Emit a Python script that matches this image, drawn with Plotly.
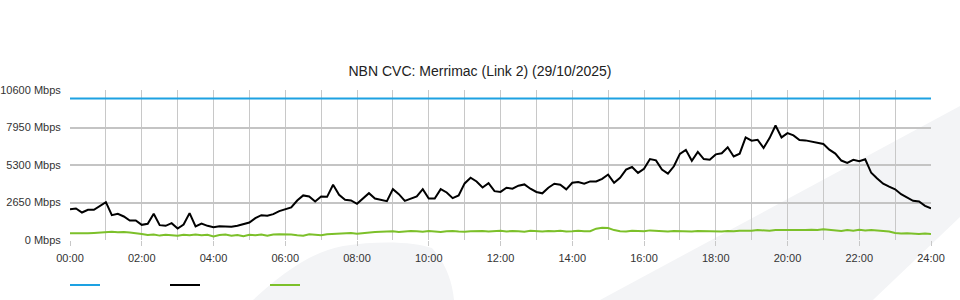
import plotly.graph_objects as go

# ---------------- data (10-minute samples, 00:00 .. 24:00) ----------------
sample_minutes = 10
capacity_mbps = 10000

download_mbps = [
    2179, 2226, 1944, 2132, 2132, 2415, 2674, 1755, 1849, 1661, 1378, 1378,
    1072, 1143, 1849, 1048, 1001, 1190, 813, 1096, 1900, 954, 1166, 1001,
    907, 978, 931, 931, 1001, 1096, 1237, 1543, 1755, 1708, 1826, 2038,
    2179, 2297, 2792, 3150, 3075, 2721, 3075, 3051, 3900, 3192, 2839, 2792,
    2556, 2933, 3310, 2933, 2839, 2745, 3593, 3239, 2768, 2933, 3075, 3593,
    2933, 2933, 3593, 3357, 2957, 3145, 4000, 4400, 4135, 3711, 4017, 3452,
    3400, 3696, 3626, 3836, 3929, 3626, 3394, 3301, 3696, 3975, 3905, 3580,
    4045, 4091, 3975, 4138, 4138, 4324, 4626, 4045, 4394, 4975, 5161, 4742,
    5030, 5719, 5626, 4975, 4696, 5208, 6091, 6370, 5603, 6230, 5719, 5672,
    6050, 6128, 6550, 5900, 6100, 7249, 7016, 7086, 6502, 7202, 8090, 7249,
    7553, 7389, 7062, 7039, 6969, 6876, 6782, 6385, 6105, 5615, 5451, 5661,
    5568, 5708, 4750, 4354, 3980, 3770, 3583, 3233, 3000, 2766, 2719, 2416,
    2229,
]

upload_mbps = [
    480, 470, 490, 470, 500, 540,
    600, 590, 540, 570, 530, 500,
    420, 360, 390, 310, 370, 340,
    300, 370, 340, 380, 330, 370,
    250, 350, 380, 300, 360, 260,
    370, 340, 390, 300, 380, 400,
    410, 380, 330, 300, 400, 370,
    330, 400, 420, 470, 450, 490,
    450, 500, 520, 560, 580, 600,
    620, 570, 600, 640, 610, 580,
    630, 600, 560, 620, 640, 600,
    580, 620, 650, 640, 600, 620,
    650, 600, 640, 620, 580, 650,
    620, 600, 640, 620, 660, 600,
    620, 650, 620, 620, 800, 860,
    840, 700, 620, 600, 650, 640,
    620, 680, 650, 620, 600, 640,
    620, 650, 600, 640, 620, 600,
    620, 600, 640, 620, 660, 640,
    660, 700, 680, 660, 700, 700,
    680, 700, 660, 700, 720, 700,
    760, 720, 680, 640, 700, 660,
    720, 680, 700, 660, 640, 600,
    500, 460, 480, 440, 420, 460,
    430,
]

hours = [i * sample_minutes / 60 for i in range(len(download_mbps))]
capacity = [capacity_mbps] * len(hours)

y_tick_values = [0, 2650, 5300, 7950, 10600]
y_tick_labels = ["0 Mbps", "2650 Mbps", "5300 Mbps", "7950 Mbps", "10600 Mbps"]
x_tick_values = list(range(0, 25, 2))
x_tick_labels = ["00:00", "02:00", "04:00", "06:00", "08:00", "10:00", "12:00",
                 "14:00", "16:00", "18:00", "20:00", "22:00", "24:00"]

title_text = "NBN CVC: Merrimac (Link 2) (29/10/2025)"

# ---------------- layout geometry ----------------
W, H = 960, 300
ML, MR, MT, MB = 70, 29, 90, 60
PW, PH = W - ML - MR, H - MT - MB


def pp(x, y):
    """pixel -> paper coordinates (for background watermark only)"""
    return (x - ML) / PW, (H - MB - y) / PH


def path(points_cmds):
    out = []
    for cmd, pts in points_cmds:
        coords = " ".join("%.4f,%.4f" % pp(*p) for p in pts)
        out.append(cmd + coords)
    return " ".join(out) + " Z"


wm_color = "#f3f4f6"
band = path([("M", [(600, 300)]), ("L", [(960, 106)]), ("L", [(960, 217)]), ("L", [(873, 300)])])
blob = path([("M", [(253, 300)]),
             ("C", [(280, 275), (310, 252), (343, 246)]),
             ("C", [(380, 240), (415, 242), (432, 248)]),
             ("C", [(445, 262), (452, 280), (454, 300)])])

fig = go.Figure()
fig.add_trace(go.Scatter(x=hours, y=capacity, mode="lines", name="",
                         line=dict(color="#1da1e2", width=2)))
fig.add_trace(go.Scatter(x=hours, y=download_mbps, mode="lines", name="",
                         line=dict(color="#000000", width=2)))
fig.add_trace(go.Scatter(x=hours, y=upload_mbps, mode="lines", name="",
                         line=dict(color="#7cc02a", width=2)))

font_family = "Liberation Sans, Arial, sans-serif"

fig.update_layout(
    width=W, height=H,
    margin=dict(l=ML, r=MR, t=MT, b=MB, pad=0, autoexpand=False),
    paper_bgcolor="white", plot_bgcolor="rgba(0,0,0,0)",
    font=dict(family=font_family, size=11, color="#333333"),
    title=dict(text=title_text, x=0.5, xanchor="center", xref="container",
               y=1 - 71 / H, yanchor="middle", yref="container",
               font=dict(family=font_family, size=14, color="#222222")),
    showlegend=True,
    legend=dict(orientation="h", xref="container", yref="container",
                x=65 / W, xanchor="left", y=1 - 285 / H, yanchor="middle",
                entrywidth=55, entrywidthmode="pixels",
                font=dict(size=11), bgcolor="rgba(0,0,0,0)"),
    shapes=[
        dict(type="path", path=band, xref="paper", yref="paper",
             fillcolor=wm_color, line=dict(width=0), layer="below"),
        dict(type="path", path=blob, xref="paper", yref="paper",
             fillcolor=wm_color, line=dict(width=0), layer="below"),
    ],
    hovermode=False,
)

fig.update_xaxes(
    range=[0, 24], tickmode="array", tickvals=x_tick_values, ticktext=x_tick_labels,
    showgrid=True, gridcolor="#c8c8c8", gridwidth=1,
    ticks="outside", ticklen=5, tickcolor="#c8c8c8", tickwidth=1,
    ticklabelstandoff=3,
    minor=dict(dtick=1, tick0=0, showgrid=True, gridcolor="#c8c8c8", gridwidth=1),
    zeroline=False, showline=False, fixedrange=True, automargin=False,
    tickfont=dict(size=11, color="#333333"),
)
fig.update_yaxes(
    range=[0, 10600], tickmode="array", tickvals=y_tick_values, ticktext=y_tick_labels,
    showgrid=True, gridcolor="#c4c4c4", gridwidth=2,
    ticks="outside", ticklen=6, tickcolor="rgba(0,0,0,0)",
    zeroline=False, showline=False, fixedrange=True, automargin=False,
    tickfont=dict(size=11, color="#333333"),
)

fig.write_html("out.html")
